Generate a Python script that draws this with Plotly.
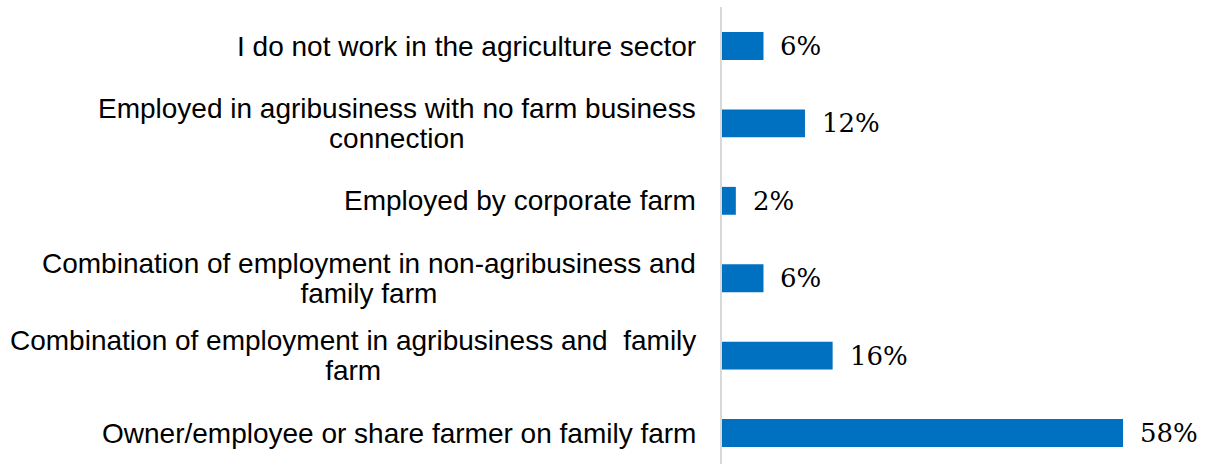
import plotly.graph_objects as go

# Survey responses: employment situation in the agriculture sector (percent)
categories = [
    ["I do not work in the agriculture sector"],
    ["Employed in agribusiness with no farm business", "connection"],
    ["Employed by corporate farm"],
    ["Combination of employment in non-agribusiness and", "family farm"],
    ["Combination of employment in agribusiness and  family", "farm"],
    ["Owner/employee or share farmer on family farm"],
]
values = [6, 12, 2, 6, 16, 58]
value_labels = ["6%", "12%", "2%", "6%", "16%", "58%"]

cat_keys = [" ".join(c) for c in categories]

fig = go.Figure(
    go.Bar(
        x=values,
        y=cat_keys,
        orientation="h",
        width=0.36,
        marker=dict(color="#0070C0", line=dict(width=0)),
        hoverinfo="skip",
    )
)

text_size = 28
line_pitch = 30  # distance between wrapped lines, px
sans = "Liberation Sans, Arial, sans-serif"

annotations = []
for key, lines in zip(cat_keys, categories):
    if len(lines) == 1:
        annotations.append(dict(
            x=0, xref="paper", y=key, yref="y", text=lines[0], showarrow=False,
            xanchor="right", yanchor="middle", xshift=-24,
            font=dict(family=sans, size=text_size, color="#000000"),
        ))
    else:
        # line spacing follows the annotation's base size (1.3em), so the base
        # size sets the pitch while each line is drawn at the full text size
        body = "<br>".join(
            f'<span style="font-size:{text_size}px">{ln}</span>' for ln in lines
        )
        annotations.append(dict(
            x=0, xref="paper", y=key, yref="y", text=body, showarrow=False,
            align="center", xanchor="right", yanchor="middle", xshift=-24,
            font=dict(family=sans, size=line_pitch / 1.3, color="#000000"),
        ))

for key, v, lab in zip(cat_keys, values, value_labels):
    annotations.append(dict(
        x=v, xref="x", y=key, yref="y",
        text=lab, showarrow=False,
        xanchor="left", yanchor="middle", xshift=15,
        font=dict(family="DejaVu Serif, serif", size=26, color="#000000"),
    ))

fig.update_layout(
    width=1213, height=464,
    margin=dict(l=722, r=7, t=7, b=0),
    paper_bgcolor="white", plot_bgcolor="white",
    showlegend=False,
    annotations=annotations,
    xaxis=dict(range=[0, 70], visible=False, fixedrange=True),
    yaxis=dict(
        type="category",
        categoryorder="array", categoryarray=cat_keys,
        range=[5.40, -0.504],
        showticklabels=False, ticks="",
        showgrid=False, zeroline=False,
        showline=True, linecolor="#d9d9d9", linewidth=2,
        fixedrange=True,
    ),
)

fig.write_html("out.html")
